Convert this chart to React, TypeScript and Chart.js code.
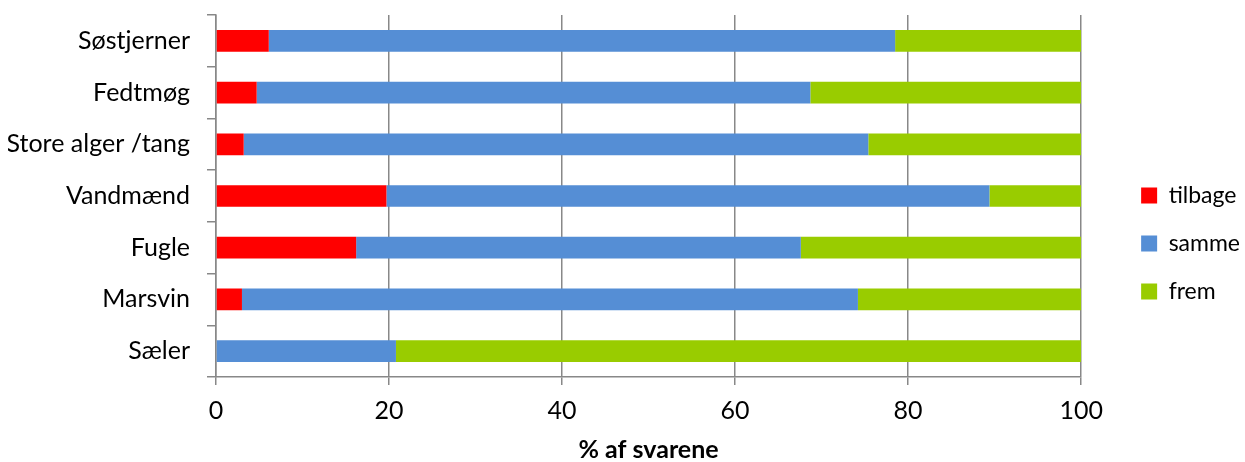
import React, { useEffect, useRef } from "react";
import { Chart, registerables } from "chart.js";

Chart.register(...registerables);

const categories = ["Søstjerner", "Fedtmøg", "Store alger /tang", "Vandmænd", "Fugle", "Marsvin", "Sæler"];
const tilbage = [6.1, 4.7, 3.2, 19.7, 16.2, 3.0, 0];
const samme = [72.4, 64.0, 72.2, 69.7, 51.4, 71.2, 20.8];
const frem = [21.5, 31.3, 24.6, 10.6, 32.4, 25.8, 79.2];
const xTicks = [0, 20, 40, 60, 80, 100];

const FONT = "Lato, 'Open Sans', sans-serif";
const GRID = "#888888";
const LEGEND_PAD = 25;

// moves the legend block away from the plot (gap like the original) and a bit down
const legendShift = {
  id: "legendShift",
  afterLayout(chart: any) {
    const l = chart.legend;
    if (!l) return;
    const dx = chart.chartArea.right + 60 - LEGEND_PAD - l.left;
    l.left += dx;
    l.right += dx;
    l.top += 5;
    l.bottom += 5;
  },
};

export default function App() {
  const ref = useRef<HTMLCanvasElement>(null);
  useEffect(() => {
    if (!ref.current) return;
    const chart = new Chart(ref.current, {
      type: "bar",
      data: {
        labels: categories,
        datasets: [
          { label: "tilbage", data: tilbage, backgroundColor: "#FF0000", barPercentage: 0.42, categoryPercentage: 1 },
          { label: "samme", data: samme, backgroundColor: "#558ED5", barPercentage: 0.42, categoryPercentage: 1 },
          { label: "frem", data: frem, backgroundColor: "#99CC00", barPercentage: 0.42, categoryPercentage: 1 },
        ],
      },
      plugins: [legendShift],
      options: {
        indexAxis: "y",
        animation: false,
        responsive: true,
        maintainAspectRatio: false,
        layout: { padding: { top: 15, left: 8, right: 30, bottom: 0 } },
        plugins: {
          tooltip: { enabled: false },
          legend: {
            position: "right",
            labels: {
              font: { family: FONT, size: 23 },
              color: "#000",
              boxWidth: 16,
              boxHeight: 16,
              padding: LEGEND_PAD,
            },
          },
        },
        scales: {
          x: {
            stacked: true,
            min: 0,
            max: 100,
            afterBuildTicks: (s: any) => {
              s.ticks = xTicks.map((v) => ({ value: v }));
            },
            ticks: { font: { family: FONT, size: 25 }, color: "#000", padding: 11 },
            grid: { color: GRID, lineWidth: 1.5, tickLength: 8, drawOnChartArea: true },
            border: { color: GRID, width: 1.5 },
            title: {
              display: true,
              text: "% af svarene",
              font: { family: FONT, size: 25, weight: "bold", lineHeight: 1.0 },
              color: "#000",
              padding: { top: 6, bottom: 0 },
            },
            afterFit: (s: any) => {
              s.height = 462 - 377;
              s.paddingLeft = 0;
              s.paddingRight = 0;
            },
          },
          y: {
            stacked: true,
            ticks: { font: { family: FONT, size: 25 }, color: "#000", padding: 17 },
            grid: { color: GRID, lineWidth: 1.5, tickLength: 9, drawOnChartArea: false, offset: true },
            border: { color: GRID, width: 1.5 },
            afterFit: (s: any) => {
              s.width = 216 - 8;
              s.paddingTop = 0;
              s.paddingBottom = 0;
            },
          },
        },
      },
    });
    return () => chart.destroy();
  }, []);
  return (
    <div style={{ position: "fixed", left: 0, top: 0, width: 1245, height: 462, background: "#fff" }}>
      <canvas ref={ref} />
    </div>
  );
}
